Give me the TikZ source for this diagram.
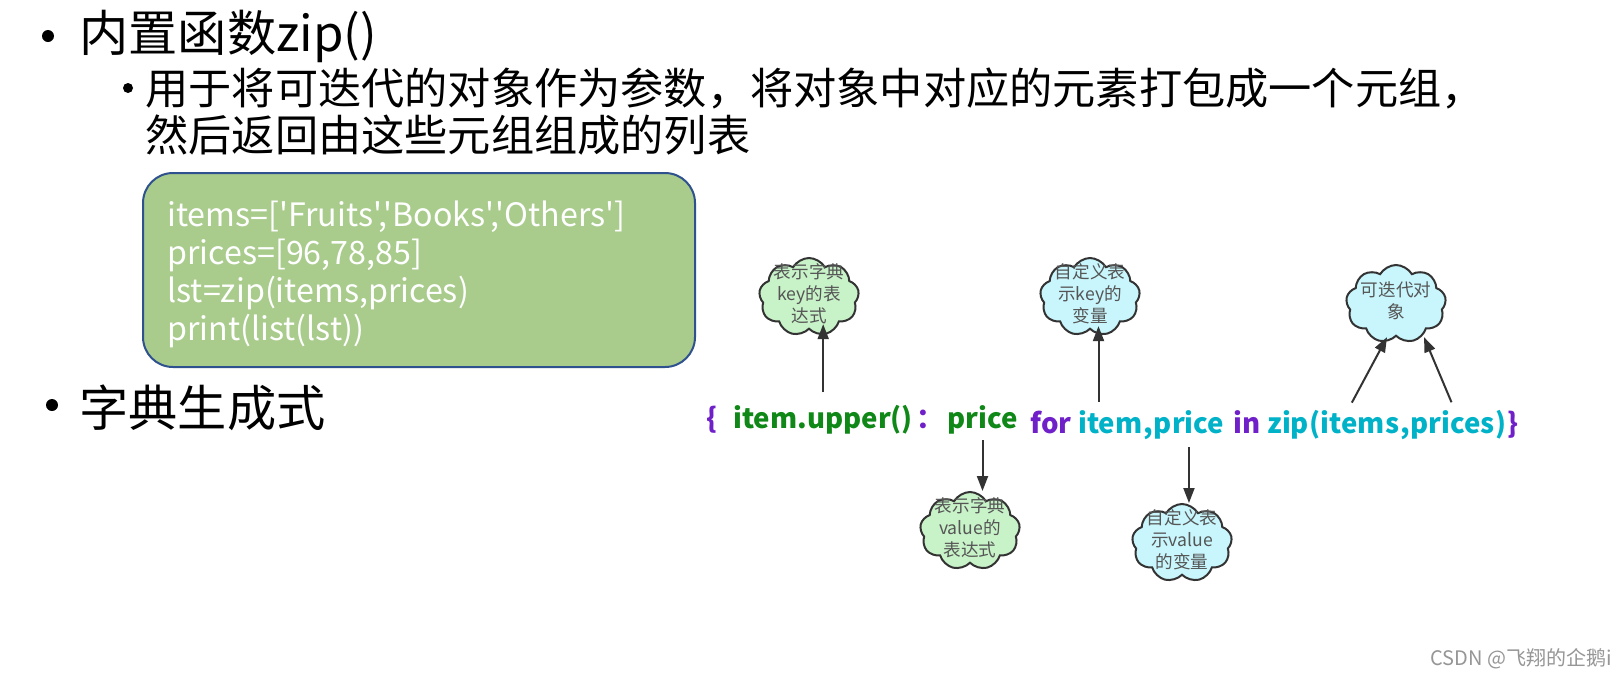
\documentclass[tikz,border=0pt]{standalone}
\usepackage{fontspec}
\setmainfont{Noto Sans CJK SC}
\newfontfamily\codefont{Noto Sans CJK SC}
\usetikzlibrary{shapes.symbols,arrows.meta}

\definecolor{boxgreen}{RGB}{169,204,141}
\definecolor{boxline}{RGB}{47,82,143}
\definecolor{kwpurple}{RGB}{112,32,200}
\definecolor{expgreen}{RGB}{16,136,24}
\definecolor{varteal}{RGB}{0,178,200}
\definecolor{cloudgreen}{RGB}{200,242,200}
\definecolor{cloudcyan}{RGB}{200,246,252}
\definecolor{cloudtext}{RGB}{85,85,85}
\definecolor{markgray}{RGB}{150,150,150}

% 云朵里的文字不撑大形状
\newcommand\cloudtxt[1]{\raisebox{-0.35ex}[0pt][0pt]{\makebox[0pt]{\begin{tabular}{@{}c@{}}#1\end{tabular}}}}

\tikzset{
  title/.style={anchor=base west, inner sep=0pt, font=\fontsize{24.6}{30}\selectfont},
  sub/.style={anchor=base west, inner sep=0pt, font=\fontsize{21.6}{26}\selectfont},
  codeline/.style={anchor=base west, inner sep=0pt, text=white, font=\codefont\fontsize{16.1}{19}\selectfont},
  word/.style={anchor=base west, inner sep=0pt, font=\bfseries\fontsize{13.8}{17}\selectfont},
  note/.style={cloud, cloud puffs=9, cloud puff arc=120, draw=black!80, line width=1pt,
    inner sep=0pt, minimum width=50pt, minimum height=39pt, text=cloudtext,
    font=\fontsize{8.8}{10.9}\selectfont},
  ptr/.style={-{Triangle[length=7.5pt,width=5.5pt]}, draw=black!80, line width=1pt},
}

\begin{document}
\begin{tikzpicture}[x=0.5pt, y=-0.5pt]
    \fill[white] (0,0) rectangle (1620,675);
    \useasboundingbox (0,0) rectangle (1620,675);

    % 标题
    \fill (48,36) circle (6);
    \node[title] (t1) at (79,51) {内置函数zip()};
    \fill (128,88) circle (5);
    \node[sub] (t2) at (145,104) {用于将可迭代的对象作为参数，将对象中对应的元素打包成一个元组，};
    \node[sub] (t3) at (145,151) {然后返回由这些元组组成的列表};

    % 代码框
    \draw[boxline, fill=boxgreen, line width=1pt, rounded corners=15pt] (143,173) rectangle (695,367);
    \foreach \ln [count=\i] in {{items=['Fruits','Books','Others']}, {prices=[96,78,85]},
        {lst=zip(items,prices)}, {print(list(lst))}}
        \node[codeline] (code\i) at (167,{226+38*(\i-1)}) {\ln};

    \fill (52,405) circle (6);
    \node[title] (t4) at (79,426) {字典生成式};

    % 字典生成式
    \node[word, text=kwpurple] (lb) at (706,428) {\{};
    \node[word, text=expgreen] (kexp) at (733,428) {item.upper()};
    \node[word, text=kwpurple] (colon) at (916,428) {：};
    \node[word, text=expgreen] (vexp) at (947,428) {price};
    \node[word, text=kwpurple] (kwfor) at (1030,433) {for};
    \node[word, text=varteal] (kvar) at (1078,433) {item};
    \node[word, text=varteal] (sep1) at (kvar.base east) {,};
    \node[word, text=varteal] (vvar) at (sep1.base east) {price};
    \node[word, text=kwpurple] (kwin) at (1233,433) {in};
    \node[word, text=varteal] (zipf) at (1267,433) {zip(};
    \node[word, text=varteal] (iterk) at (zipf.base east) {items};
    \node[word, text=varteal] (sep2) at (iterk.base east) {,};
    \node[word, text=varteal] (iterv) at (sep2.base east) {prices};
    \node[word, text=varteal] (zipr) at (iterv.base east) {)};
    \node[word, text=kwpurple] (rb) at (zipr.base east) {\}};

    % 说明云朵
    \node[note, fill=cloudgreen] (kcloud) at (809,297) {\cloudtxt{表示字典\\key的表\\达式}};
    \node[note, fill=cloudcyan] (kvcloud) at (1090,297) {\cloudtxt{自定义表\\示key的\\变量}};
    \node[note, fill=cloudcyan] (itcloud) at (1396,304) {\cloudtxt{可迭代对\\象}};
    \node[note, fill=cloudgreen] (vcloud) at (970,531) {\cloudtxt{表示字典\\value的\\表达式}};
    \node[note, fill=cloudcyan] (vvcloud) at (1182,543) {\cloudtxt{自定义表\\示value\\的变量}};

    % 箭头
    \draw[ptr, shorten <=6pt, shorten >=-3pt] (kexp.north) -- (kexp.north |- kcloud.south);
    \draw[ptr, shorten <=4pt, shorten >=-2pt] ([xshift=-6pt]kvar.north) -- ([xshift=-6pt]kvar.north |- kvcloud.south);
    \draw[ptr, shorten <=4pt] ([xshift=-6pt]iterk.north) -- ([xshift=-4.5pt]itcloud.south);
    \draw[ptr, shorten <=4pt] ([xshift=1pt]iterv.north) -- ([xshift=14pt]itcloud.south);
    \draw[ptr, shorten <=3pt] (vexp.south) -- (vexp.south |- vcloud.north);
    \draw[ptr, shorten <=4pt] (vvar.south) -- (vvar.south |- vvcloud.north);

    \node[anchor=base west, inner sep=0pt, text=markgray, font=\fontsize{10}{12}\selectfont] (mark) at (1430,665) {CSDN @飞翔的企鹅i};
\end{tikzpicture}
\end{document}
